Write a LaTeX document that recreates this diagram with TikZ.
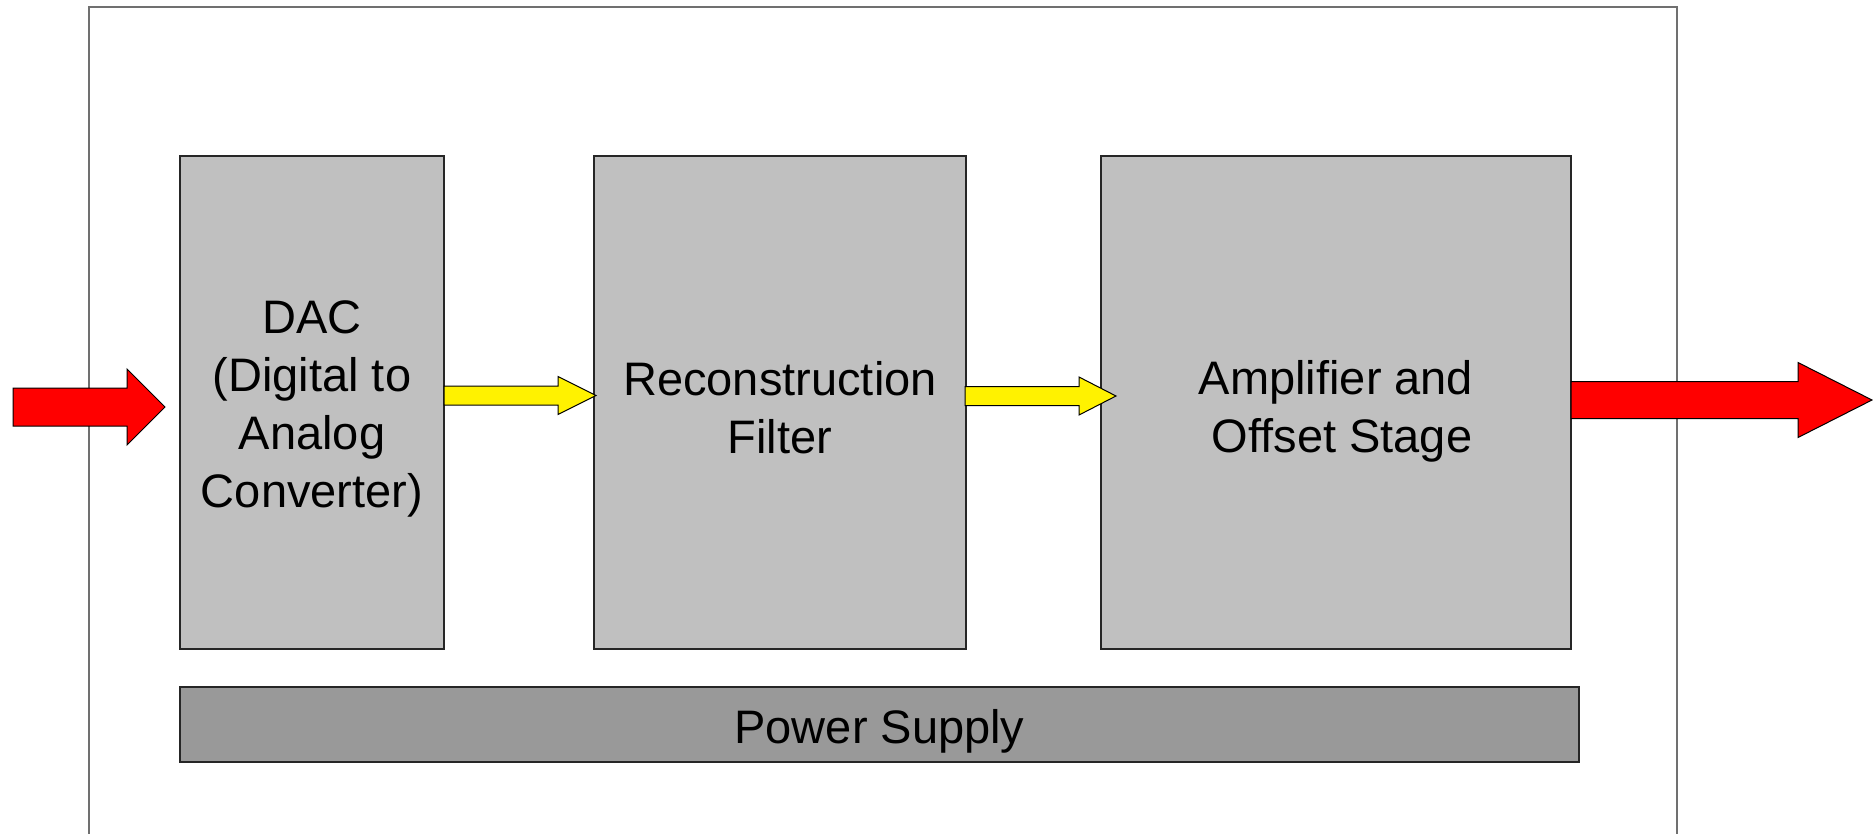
\documentclass[tikz,border=0pt]{standalone}
\usepackage{fontspec}
\setmainfont{Liberation Sans}
\usetikzlibrary{calc}

\definecolor{blockgray}{HTML}{C0C0C0}
\definecolor{supplygray}{HTML}{999999}
\definecolor{framegray}{HTML}{707070}

% block arrow: tail, tip, half body width, half head width, head length, fill
\newcommand\blockarrow[6]{%
  \draw[arrowline, fill=#6]
    ($(#1)+(0,#3)$) -- ($(#2)+(-#5,#3)$) -- ($(#2)+(-#5,#4)$) -- (#2)
    -- ($(#2)+(-#5,-#4)$) -- ($(#2)+(-#5,-#3)$) -- ($(#1)+(0,-#3)$) -- cycle;}

\tikzset{
  stagebox/.style={draw=black!85, line width=1.5pt, fill=blockgray,
    inner sep=0pt, outer sep=0pt},
  supplybox/.style={stagebox, fill=supplygray},
  stagetext/.style={inner sep=0pt, align=center,
    font=\fontsize{47}{58}\selectfont},
  frameline/.style={draw=framegray, line width=1.8pt},
  arrowline/.style={draw=black, line width=1pt, line join=miter},
}

\begin{document}
\begin{tikzpicture}[x=1pt, y=-1pt]
\useasboundingbox (0,0) rectangle (1873,833);
\fill[white] (0,0) rectangle (1873,833);

% enclosure
\draw[frameline] (89,840) -- (89,7) -- (1677,7) -- (1677,840);

% processing stages
\node[stagebox, minimum width=264, minimum height=493] (dac) at (312,402.5) {};
\node[stagebox, minimum width=372, minimum height=493] (recon) at (780,402.5) {};
\node[stagebox, minimum width=470, minimum height=493] (amp) at (1336,402.5) {};
\node[supplybox, minimum width=1399, minimum height=75] (psu) at (879.5,724.5) {};

% stage labels
\node[stagetext] (dacText) at ($(dac.center)+(0,6)$)
  {DAC\\(Digital to\\Analog\\Converter)};
\node[stagetext] (reconText) at ($(recon.center)+(0,5)$)
  {Reconstruction\\Filter};
\node[stagetext] (ampText) at ($(amp.center)+(0,9)$)
  {Amplifier and\\\hspace*{12pt}Offset Stage};
\node[stagetext] (psuText) at ($(psu.center)+(0,7)$) {Power Supply};

% signal path end points
\coordinate (inTail) at (13,407);
\coordinate (inTip) at ($(dac.west)+(-15,4.5)$);
\coordinate (aTail) at ($(dac.east)+(0,-7)$);
\coordinate (aTip) at ($(recon.west)+(2,-7)$);
\coordinate (bTail) at ($(recon.east)+(-1,-6.5)$);
\coordinate (bTip) at ($(amp.west)+(15,-6.5)$);
\coordinate (outTail) at ($(amp.east)+(0,-2.5)$);
\coordinate (outTip) at (1872,400);

% signal arrows
\blockarrow{inTail}{inTip}{19}{38}{38}{red}
\blockarrow{aTail}{aTip}{9.5}{19}{38}{yellow}
\blockarrow{bTail}{bTip}{9.5}{19}{37}{yellow}
\blockarrow{outTail}{outTip}{18.5}{37.5}{74}{red}
\end{tikzpicture}
\end{document}
